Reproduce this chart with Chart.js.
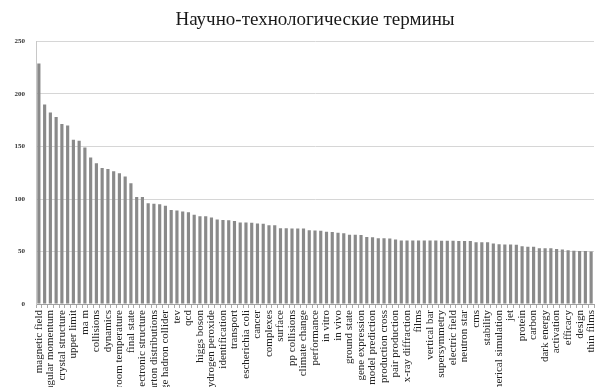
<!DOCTYPE html>
<html>
<head>
<meta charset="utf-8">
<script src="https://cdn.jsdelivr.net/npm/chart.js@4/dist/chart.umd.min.js"></script>
<style>
html,body{margin:0;padding:0;background:#fff;overflow:hidden;}
#wrap{width:596px;height:387px;}
</style>
</head>
<body>
<div id="wrap"><canvas id="c" width="596" height="387"></canvas></div>
<script>
const chartTitle = 'Научно-технологические термины';

// labels shown under every other bar (bars 1, 3, 5, ... 97)
const termLabels = [
  'magnetic field','angular momentum','crystal structure','upper limit','ma m',
  'collisions','dynamics','room temperature','final state','electronic structure',
  'parton distributions','large hadron collider','tev','qcd','higgs boson',
  'hydrogen peroxide','identification','transport','escherichia coli','cancer',
  'complexes','surface','pp collisions','climate change','performance',
  'in vitro','in vivo','ground state','gene expression','model prediction',
  'production cross','pair production','x-ray diffraction','films','vertical bar',
  'supersymmetry','electric field','neutron star','cms','stability',
  'numerical simulation','jet','protein','carbon','dark energy',
  'activation','efficacy','design','thin films'
];

const counts = [
  229, 190, 182.5, 178, 171.5, 170, 156.5, 155.5, 149, 139.5,
  134, 129.5, 128.5, 126.5, 124.5, 121.5, 115, 102, 102, 96,
  95.5, 95, 93.5, 89.5, 89, 88, 87.5, 85, 83.6, 83.5,
  82.4, 80.5, 80, 79.8, 79, 77.6, 77.6, 77.5, 76.7, 76.5,
  75, 75, 72.2, 72.2, 72, 72, 71.8, 70.3, 70, 69.8,
  68.7, 68.5, 67.8, 67.5, 66, 65.9, 65.8, 63.7, 63.5, 62.7,
  62.7, 62.5, 61.5, 60.5, 60.5, 60.5, 60.5, 60.5, 60.5, 60.5,
  60.2, 60.2, 60.2, 59.9, 59.9, 59.9, 58.9, 58.9, 58.9, 57.7,
  57, 56.7, 56.7, 56.5, 55.1, 54.5, 54.5, 53.2, 53.2, 53,
  52.3, 52, 51.3, 50.7, 50.5, 50.5, 50
];

const yTicks = [0, 50, 100, 150, 200, 250];

const categories = counts.map((v, i) => (i % 2 === 0 ? (termLabels[i / 2] || '') : ''));

new Chart(document.getElementById('c'), {
  type: 'bar',
  data: {
    labels: categories,
    datasets: [{
      data: counts,
      backgroundColor: '#8a8a8a',
      borderWidth: 0,
      barPercentage: 0.55,
      categoryPercentage: 1.0
    }]
  },
  options: {
    responsive: false,
    animation: false,
    layout: { padding: { left: 0, right: 2, top: 0, bottom: 0 } },
    plugins: {
      legend: { display: false },
      tooltip: { enabled: false },
      title: {
        display: true,
        text: chartTitle,
        fullSize: false,
        color: '#1a1a1a',
        font: { family: '"Liberation Serif", "DejaVu Serif", serif', size: 19, weight: 'normal', lineHeight: 1.2 },
        padding: { top: 8.5, bottom: 10.2 }
      }
    },
    scales: {
      x: {
        offset: true,
        grid: {
          display: true,
          drawOnChartArea: false,
          offset: true,
          tickLength: 4,
          color: '#aaaaaa'
        },
        border: { display: true, color: '#a0a0a0' },
        ticks: {
          autoSkip: false,
          minRotation: 90,
          maxRotation: 90,
          padding: 2,
          color: '#222',
          font: { family: '"Liberation Serif", "DejaVu Serif", serif', size: 11 }
        },
        afterFit: (s) => { s.height = 83; s.paddingLeft = 0; s.paddingRight = 0; }
      },
      y: {
        min: 0,
        max: 250,
        afterBuildTicks: (s) => { s.ticks = yTicks.map(v => ({ value: v })); },
        grid: {
          color: '#d6d6d6',
          drawTicks: false
        },
        border: { display: true, color: '#c8c8c8' },
        ticks: {
          padding: 11,
          color: '#333',
          font: { family: '"Liberation Serif", "DejaVu Serif", serif', size: 7, weight: 'bold' }
        },
        afterFit: (s) => { s.width = 36; }
      }
    }
  }
});
</script>
</body>
</html>
